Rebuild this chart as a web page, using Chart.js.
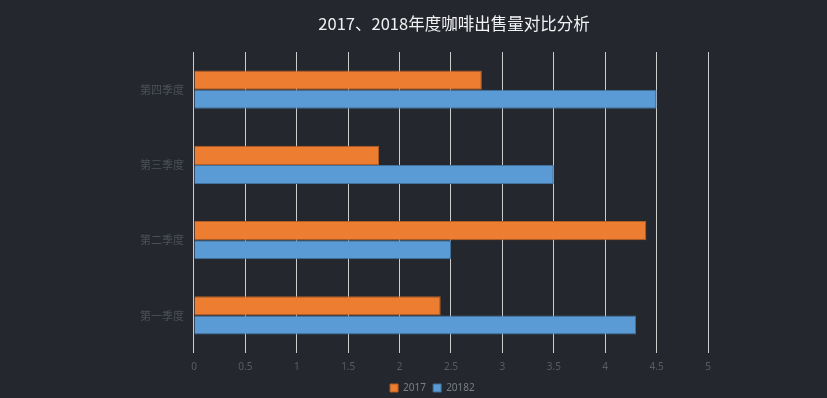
<!DOCTYPE html>
<html>
<head>
<meta charset="utf-8">
<script src="https://cdn.jsdelivr.net/npm/chart.js@4"></script>
<style>
  html, body { margin: 0; padding: 0; background: #24272e; }
  #wrap { width: 827px; height: 398px; }
</style>
</head>
<body>
<div id="wrap"><canvas id="salesChart" width="827" height="398"></canvas></div>
<script>
// quarters bottom-to-top, as in the picture
const quarters = ['第一季度', '第二季度', '第三季度', '第四季度'];
const sales2017 = [2.4, 4.4, 1.8, 2.8];
const sales2018 = [4.3, 2.5, 3.5, 4.5];
const xTicks = [0, 0.5, 1, 1.5, 2, 2.5, 3, 3.5, 4, 4.5, 5];

const chartTitle = '2017、2018年度咖啡出售量对比分析';

// title centred over the plot area, not the canvas
const titlePlugin = {
    id: 'plotTitle',
    afterLayout(chart) {
        // nudge the legend a bit to the right, like the original
        if (chart.legend) {
            chart.legend.left += 16;
            chart.legend.right += 16;
        }
    },
    afterDraw(chart) {
        const c = chart.ctx;
        const area = chart.chartArea;
        c.save();
        c.fillStyle = '#f2f2f2';
        c.font = '16.5px "Noto Sans CJK SC", sans-serif';
        c.textAlign = 'center';
        c.textBaseline = 'middle';
        c.fillText(chartTitle, (area.left + area.right) / 2 + 3, 24);
        c.restore();
    }
};

const ctx = document.getElementById('salesChart');
new Chart(ctx, {
    type: 'bar',
    data: {
        labels: quarters.slice().reverse(),
        datasets: [{
            label: '2017',
            data: sales2017.slice().reverse(),
            backgroundColor: '#ed7d31',
            borderColor: '#b35e24',
            borderWidth: 1
        }, {
            label: '20182',
            data: sales2018.slice().reverse(),
            backgroundColor: '#5b9bd5',
            borderColor: '#41719c',
            borderWidth: 1
        }]
    },
    options: {
        indexAxis: 'y',
        responsive: false,
        animation: false,
        layout: {
            padding: { top: 52, right: 119, bottom: -5, left: 130 }
        },
        scales: {
            x: {
                min: 0,
                max: 5,
                afterBuildTicks: (axis) => {
                    axis.ticks = xTicks.map(v => ({ value: v }));
                },
                grid: {
                    color: '#cccccc',
                    lineWidth: 1,
                    drawTicks: false
                },
                border: { display: false },
                ticks: {
                    color: '#595d64',
                    padding: 8,
                    callback: (v) => String(v),
                    font: { family: '"Noto Sans", sans-serif', size: 10 }
                }
            },
            y: {
                grid: { display: false, drawTicks: false, tickLength: 0 },
                border: { display: false },
                ticks: {
                    color: '#4b4f56',
                    padding: 10,
                    font: { family: '"Noto Sans CJK SC", sans-serif', size: 11 }
                }
            }
        },
        datasets: {
            bar: { categoryPercentage: 0.51, barPercentage: 1 }
        },
        plugins: {
            title: { display: false },
            tooltip: { enabled: false },
            legend: {
                position: 'bottom',
                labels: {
                    color: '#7a7e85',
                    boxWidth: 8,
                    boxHeight: 8,
                    padding: 2,
                    font: { family: '"Noto Sans", sans-serif', size: 10 },
                    // small padding keeps the legend low; spaces keep the items apart
                    generateLabels: (chart) => {
                        const items = Chart.defaults.plugins.legend.labels.generateLabels(chart);
                        items.forEach(it => { it.text = it.text + '  '; });
                        return items;
                    }
                }
            }
        }
    },
    plugins: [titlePlugin]
});
</script>
</body>
</html>
